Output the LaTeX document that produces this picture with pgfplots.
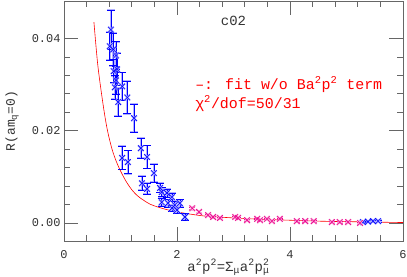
\documentclass[border=0pt]{standalone}
\usepackage{fontspec}
\setmainfont{Liberation Mono}
\usepackage{pgfplots}
\usepackage{pgfplotstable}
\pgfplotsset{compat=1.18}

\pgfplotstableread{
x y e
0.83 0.0419 0.0042
0.81 0.0383 0.0030
0.87 0.0376 0.0035
0.92 0.0363 0.0030
0.94 0.0333 0.0035
0.88 0.0329 0.0025
0.92 0.0309 0.0030
1.03 0.0296 0.0030
0.90 0.0294 0.0025
1.12 0.0272 0.0035
0.96 0.0262 0.0030
1.24 0.0227 0.0030
1.03 0.0141 0.0025
1.13 0.0132 0.0025
1.36 0.0162 0.0022
1.47 0.0143 0.0025
1.59 0.0108 0.0020
1.38 0.0086 0.0015
1.47 0.0074 0.0012
1.70 0.0076 0.0010
1.73 0.0067 0.0010
1.82 0.0065 0.0009
1.91 0.0056 0.0009
1.73 0.0045 0.0008
1.84 0.0043 0.0008
1.96 0.0039 0.0008
2.05 0.0043 0.0008
1.91 0.0032 0.0007
2.00 0.0028 0.0007
2.14 0.0013 0.0007
5.29 0.0002 0.0002
5.38 0.0003 0.0002
5.47 0.0004 0.0002
5.56 0.0004 0.0002
}\bluedata

\pgfplotstableread{
x y e
2.27 0.0032 0.0003
2.39 0.0024 0.0003
2.55 0.0017 0.0002
2.64 0.0013 0.0002
2.76 0.0011 0.0002
3.03 0.0013 0.0002
3.08 0.0011 0.0002
3.24 0.0006 0.0002
3.42 0.0009 0.0002
3.47 0.0006 0.0002
3.59 0.0009 0.0002
3.68 0.0004 0.0002
3.82 0.0009 0.0002
4.12 0.0004 0.0002
4.27 0.0004 0.0002
4.42 0.0004 0.0002
4.74 0.0002 0.0002
4.88 0.0002 0.0002
5.03 0.0002 0.0002
5.24 0.0000 0.0002
}\magdata

\pgfplotstableread{
x y
0.53 0.0435
0.60 0.0340
0.70 0.0250
0.77 0.0200
0.85 0.0160
0.93 0.0132
1.02 0.0108
1.11 0.0088
1.20 0.0072
1.30 0.0059
1.40 0.0050
1.52 0.0041
1.65 0.0035
1.82 0.0029
2.00 0.0024
2.25 0.0019
2.50 0.0015
3.00 0.0011
3.50 0.0008
4.00 0.0006
4.50 0.0004
5.00 0.0003
5.50 0.0002
6.00 0.0001
}\fitdata

\begin{document}
\begin{tikzpicture}
\begin{axis}[
  scale only axis, width=339bp, height=240bp,
  xmin=0, xmax=6, ymin=-0.0039, ymax=0.0481,
  xtick={0,2,4,6}, ytick={0,0.02,0.04},
  minor x tick num=4, minor y tick num=4,
  tick align=inside, xtick pos=both, ytick pos=both,
  major tick length=14bp, minor tick length=6bp,
  axis line style={black!60, line width=0.8bp},
  tick style={black!60, line width=0.6bp},
  scaled y ticks=false,
  /pgf/number format/assume math mode=true,
  tick label style={font=\fontsize{12}{12}\selectfont, text=black!80},
  yticklabel style={/pgf/number format/.cd, fixed, fixed zerofill, precision=2},
  xticklabel style={yshift=-6bp, /pgf/number format/.cd, fixed, precision=0},
  xlabel style={font=\fontsize{14}{14}\selectfont, text=black!80},
  ylabel style={font=\fontsize{13}{13}\selectfont, text=black!80},
  xlabel={a\textsuperscript{2}p\textsuperscript{2}=Σ\textsubscript{μ}a\textsuperscript{2}p\rlap{\textsuperscript{2}}\textsubscript{μ}},
  ylabel={R(am\textsubscript{q}=0)},
  xlabel style={at={(axis description cs:0.485,-0.11)}, anchor=center},
  ylabel style={at={(axis description cs:-0.153,0.5)}, anchor=center},
  clip=true,
]
\addplot[red, line width=0.6bp, smooth] table[x=x,y=y] {\fitdata};

\addplot[only marks, mark=x, mark size=4bp, color=blue!30, line width=1.8bp,
  error bars/.cd, y dir=both, y explicit, error mark=-,
  error bar style={blue!30, line width=1.8bp},
  error mark options={rotate=90, blue!30, mark size=4bp, line width=1.8bp}]
  table[x=x,y=y,y error=e] {\bluedata};
\addplot[only marks, mark=x, mark size=4bp, color=blue, line width=0.6bp,
  error bars/.cd, y dir=both, y explicit, error mark=-,
  error bar style={blue, line width=0.6bp},
  error mark options={rotate=90, blue, mark size=4bp, line width=0.6bp}]
  table[x=x,y=y,y error=e] {\bluedata};

\addplot[only marks, mark=x, mark size=4bp, color=magenta!30, line width=1.8bp,
  error bars/.cd, y dir=both, y explicit, error mark=-,
  error bar style={magenta!30, line width=1.8bp},
  error mark options={rotate=90, magenta!30, mark size=3bp, line width=1.8bp}]
  table[x=x,y=y,y error=e] {\magdata};
\addplot[only marks, mark=x, mark size=4bp, color=magenta, line width=0.6bp,
  error bars/.cd, y dir=both, y explicit, error mark=-,
  error bar style={magenta, line width=0.6bp},
  error mark options={rotate=90, magenta, mark size=3bp, line width=0.6bp}]
  table[x=x,y=y,y error=e] {\magdata};

\node[font=\fontsize{14}{14}\selectfont, text=black!80] at (axis cs:3.0,0.0437) {c02};
\node[font=\fontsize{15}{15}\selectfont, text=red, anchor=west, inner sep=0pt] at (axis cs:2.32,0.0300) {–: fit w/o Ba\textsuperscript{2}p\textsuperscript{2} term};
\node[font=\fontsize{15}{15}\selectfont, text=red, anchor=west, inner sep=0pt] at (axis cs:2.32,0.0259) {χ\textsuperscript{2}/dof=50/31};
\end{axis}
\pgfresetboundingbox
\useasboundingbox (-64bp,-36bp) rectangle (343bp,241bp);
\end{tikzpicture}
\end{document}
